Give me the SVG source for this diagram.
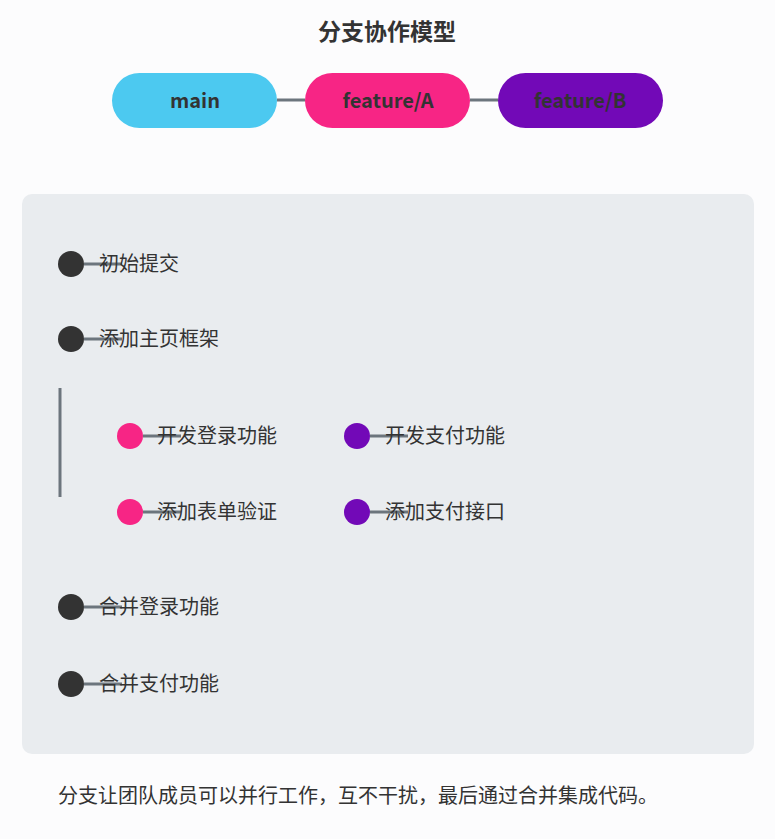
<svg xmlns="http://www.w3.org/2000/svg" width="775" height="839" viewBox="0 0 775 839">
<style>
text{font-family:"Noto Sans CJK SC","Noto Sans",sans-serif;fill:#333}
.t{font-size:20px}
.p{font-size:20px;font-weight:bold;text-anchor:middle}
.ln{stroke:#6c757d;stroke-width:3}
</style>
<rect width="775" height="839" fill="#fcfcfd"/>
<text x="387" y="40" font-size="23" font-weight="bold" text-anchor="middle">分支协作模型</text>
<g id="connectors">
<line class="ln" x1="277" y1="100" x2="305" y2="100"/>
<line class="ln" x1="470" y1="100" x2="498" y2="100"/>
</g>
<g id="main"><rect x="112" y="73" width="165" height="55" rx="27.5" fill="#4cc9f0"/><text class="p" x="195" y="108">main</text></g>
<g id="featureA"><rect x="305" y="73" width="165" height="55" rx="27.5" fill="#f72585"/><text class="p" x="388" y="108">feature/A</text></g>
<g id="featureB"><rect x="498" y="73" width="165" height="55" rx="27.5" fill="#7209b7"/><text class="p" x="580" y="108">feature/B</text></g>
<rect x="22" y="194" width="732" height="560" rx="10" fill="#e9ecef"/>
<line class="ln" x1="60" y1="388" x2="60" y2="497"/>
<g id="c1"><circle cx="71" cy="264" r="13" fill="#333"/><line class="ln" x1="84" y1="264" x2="122" y2="264"/><text class="t" x="99" y="271">初始提交</text></g>
<g id="c2"><circle cx="71" cy="339" r="13" fill="#333"/><line class="ln" x1="84" y1="339" x2="122" y2="339"/><text class="t" x="99" y="346">添加主页框架</text></g>
<g id="a1"><circle cx="130" cy="436" r="13" fill="#f72585"/><line class="ln" x1="143" y1="436" x2="181" y2="436"/><text class="t" x="157" y="443">开发登录功能</text></g>
<g id="a2"><circle cx="130" cy="512" r="13" fill="#f72585"/><line class="ln" x1="143" y1="512" x2="181" y2="512"/><text class="t" x="157" y="519">添加表单验证</text></g>
<g id="b1"><circle cx="357" cy="436" r="13" fill="#7209b7"/><line class="ln" x1="370" y1="436" x2="408" y2="436"/><text class="t" x="385" y="443">开发支付功能</text></g>
<g id="b2"><circle cx="357" cy="512" r="13" fill="#7209b7"/><line class="ln" x1="370" y1="512" x2="408" y2="512"/><text class="t" x="385" y="519">添加支付接口</text></g>
<g id="c3"><circle cx="71" cy="607" r="13" fill="#333"/><line class="ln" x1="84" y1="607" x2="122" y2="607"/><text class="t" x="99" y="614">合并登录功能</text></g>
<g id="c4"><circle cx="71" cy="684" r="13" fill="#333"/><line class="ln" x1="84" y1="684" x2="122" y2="684"/><text class="t" x="99" y="691">合并支付功能</text></g>
<text class="t" x="58" y="803">分支让团队成员可以并行工作，互不干扰，最后通过合并集成代码。</text>
</svg>
